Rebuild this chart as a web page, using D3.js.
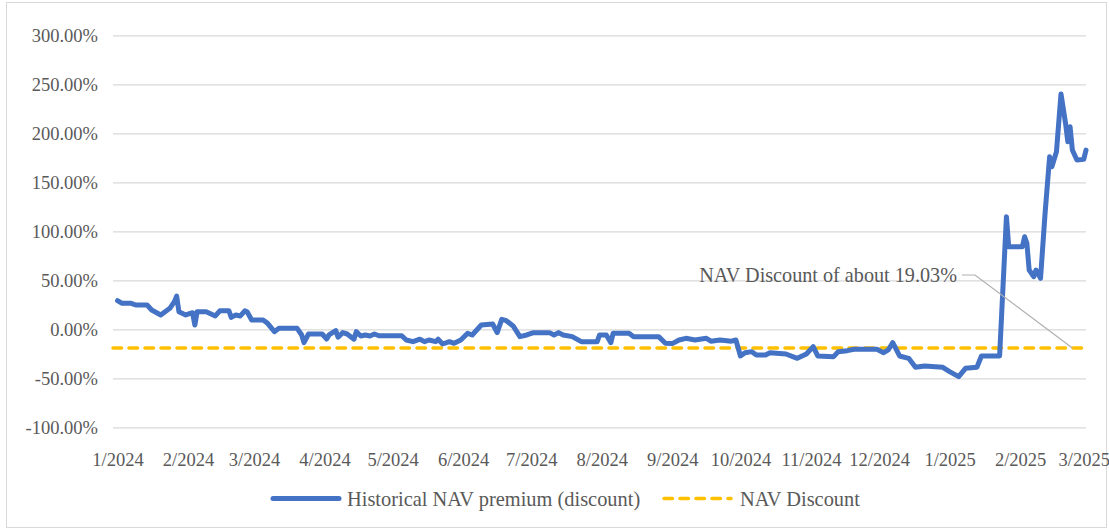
<!DOCTYPE html>
<html lang="en">
<head>
    <meta charset='utf-8'>
    <title>Historical NAV premium (discount)</title>
    <script src="https://cdn.jsdelivr.net/npm/d3@7"></script>
    <style>
        body { margin: 0; background: #fff; }
        svg { display: block; }
    </style>
</head>
<body>
<svg></svg>
<script>
    const dates = [
        "2024-01-01", "2024-01-03", "2024-01-07", "2024-01-09", "2024-01-14", "2024-01-16", "2024-01-20",
        "2024-01-24", "2024-01-26", "2024-01-27", "2024-01-28", "2024-01-31", "2024-02-03", "2024-02-04",
        "2024-02-05", "2024-02-09", "2024-02-13", "2024-02-15", "2024-02-19", "2024-02-20", "2024-02-22",
        "2024-02-24", "2024-02-26", "2024-02-27", "2024-02-29", "2024-03-05", "2024-03-07", "2024-03-10",
        "2024-03-12", "2024-03-20", "2024-03-22", "2024-03-23", "2024-03-25", "2024-03-31", "2024-04-02",
        "2024-04-03", "2024-04-06", "2024-04-07", "2024-04-09", "2024-04-11", "2024-04-14", "2024-04-15",
        "2024-04-17", "2024-04-19", "2024-04-21", "2024-04-23", "2024-04-25", "2024-05-05", "2024-05-07",
        "2024-05-10", "2024-05-13", "2024-05-15", "2024-05-17", "2024-05-20", "2024-05-21", "2024-05-23",
        "2024-05-26", "2024-05-28", "2024-05-31", "2024-06-03", "2024-06-05", "2024-06-09", "2024-06-14",
        "2024-06-16", "2024-06-18", "2024-06-20", "2024-06-23", "2024-06-26", "2024-06-29", "2024-07-02",
        "2024-07-09", "2024-07-11", "2024-07-13", "2024-07-15", "2024-07-19", "2024-07-23", "2024-07-30",
        "2024-07-31", "2024-08-03", "2024-08-05", "2024-08-06", "2024-08-13", "2024-08-15", "2024-08-26",
        "2024-08-29", "2024-09-01", "2024-09-04", "2024-09-07", "2024-09-11", "2024-09-16", "2024-09-18",
        "2024-09-22", "2024-09-27", "2024-09-29", "2024-10-01", "2024-10-03", "2024-10-06", "2024-10-08",
        "2024-10-12", "2024-10-14", "2024-10-21", "2024-10-26", "2024-10-30", "2024-11-02", "2024-11-04",
        "2024-11-11", "2024-11-13", "2024-11-17", "2024-11-20", "2024-11-30", "2024-12-03", "2024-12-05",
        "2024-12-07", "2024-12-10", "2024-12-14", "2024-12-17", "2024-12-21", "2024-12-29", "2025-01-01",
        "2025-01-05", "2025-01-08", "2025-01-13", "2025-01-15", "2025-01-23", "2025-01-26", "2025-01-27",
        "2025-02-02", "2025-02-03", "2025-02-04", "2025-02-05", "2025-02-07", "2025-02-08", "2025-02-10",
        "2025-02-12", "2025-02-14", "2025-02-15", "2025-02-17", "2025-02-19", "2025-02-21", "2025-02-22",
        "2025-02-23", "2025-02-24", "2025-02-26", "2025-03-01", "2025-03-02"
    ]

    // premium (discount) to NAV, in percent
    const premium = [
        29.3, 26.6, 26.6, 24.9, 24.9, 19.8, 14.7,
        21.5, 28.3, 34.0, 18.0, 14.7, 17.0, 4.5,
        18.0, 18.0, 13.7, 19.0, 19.0, 12.3, 14.7,
        13.7, 19.0, 18.0, 9.6, 9.6, 6.2, -2.3,
        1.1, 1.1, -5.7, -13.5, -4.7, -4.7, -9.8,
        -5.7, -1.3, -8.0, -3.3, -4.7, -10.0, -2.3,
        -6.7, -5.7, -6.7, -4.7, -6.5, -6.5, -10.8,
        -12.5, -10.0, -12.5, -10.8, -12.5, -10.0, -14.9,
        -12.5, -14.2, -10.8, -4.0, -5.7, 4.5, 5.5,
        -3.3, 10.3, 8.9, 3.5, -7.4, -5.7, -3.3,
        -3.3, -5.7, -3.3, -5.7, -7.4, -12.5, -12.5,
        -5.7, -5.7, -13.5, -4.0, -4.0, -7.4, -7.4,
        -14.2, -14.5, -10.8, -9.1, -10.8, -9.1, -12.0,
        -10.8, -12.0, -10.8, -27.1, -23.8, -22.7, -26.1,
        -26.1, -23.8, -25.1, -29.5, -25.1, -17.6, -27.1,
        -27.8, -22.7, -21.7, -20.3, -20.3, -23.8, -21.0,
        -13.5, -27.1, -29.5, -38.7, -37.3, -38.7, -43.1,
        -48.2, -39.7, -38.7, -27.1, -27.1, 115.0, 84.4,
        84.4, 94.6, 87.8, 60.6, 53.8, 60.6, 52.1,
        118.5, 176.2, 166.0, 181.3, 240.2, 210.3, 191.5,
        206.8, 183.0, 172.9, 173.5, 183.0
    ]

    const navDiscount = -19.03
    const yTicks = [-100, -50, 0, 50, 100, 150, 200, 250, 300]
    const monthTicks = [
        "2024-01-01", "2024-02-01", "2024-03-01", "2024-04-01", "2024-05-01", "2024-06-01", "2024-07-01",
        "2024-08-01", "2024-09-01", "2024-10-01", "2024-11-01", "2024-12-01", "2025-01-01", "2025-02-01",
        "2025-03-01"
    ]
    const seriesNames = ["Historical NAV premium (discount)", "NAV Discount"]
    const annotation = "NAV Discount of about 19.03%"

    const width = 1109
    const height = 530
    const margin = ({top: 35.4, right: 23, bottom: 102.6, left: 113})
    const font = "'Liberation Serif', 'DejaVu Serif', serif"
    const textColor = "#595959"
    const blue = "#4472C4"
    const gold = "#FFC000"

    const parse = d3.utcParse("%Y-%m-%d")
    const data = dates.map((d, i) => ({date: parse(d), value: premium[i]}))

    const x = d3.scaleUtc()
        .domain([parse("2023-12-30"), parse("2025-03-02")])
        .range([margin.left, width - margin.right])

    const y = d3.scaleLinear()
        .domain([-100, 300])
        .range([height - margin.bottom, margin.top])

    const svg = d3.select("svg")
        .attr("width", width)
        .attr("height", height)
        .attr("viewBox", [0, 0, width, height])

    // chart area border
    svg.append("rect")
        .attr("x", 6.5)
        .attr("y", 2.5)
        .attr("width", width - 9)
        .attr("height", height - 5)
        .attr("fill", "none")
        .attr("stroke", "#d9d9d9")

    // gridlines + y labels
    const yAxis = g => g
        .attr("transform", `translate(${margin.left},0)`)
        .call(d3.axisLeft(y)
            .tickValues(yTicks)
            .tickSize(-(width - margin.left - margin.right))
            .tickPadding(15)
            .tickFormat(d => d.toFixed(2) + "%"))
        .call(g => g.select(".domain").remove())
        .call(g => g.selectAll(".tick line").attr("stroke", "#d9d9d9").attr("stroke-width", 1.3))
        .call(g => g.selectAll(".tick text")
            .attr("fill", textColor)
            .attr("font-family", font)
            .attr("font-size", 18.5))

    svg.append("g").call(yAxis)

    const xAxis = g => g
        .attr("transform", `translate(0,${height - margin.bottom})`)
        .call(d3.axisBottom(x)
            .tickValues(monthTicks.map(parse))
            .tickSize(0)
            .tickPadding(25)
            .tickFormat(d3.utcFormat("%-m/%Y")))
        .call(g => g.select(".domain").remove())
        .call(g => g.selectAll(".tick text")
            .attr("fill", textColor)
            .attr("font-family", font)
            .attr("font-size", 18.5))

    svg.append("g").call(xAxis)

    // NAV discount reference line
    svg.append("line")
        .attr("x1", x.range()[0])
        .attr("x2", x.range()[1])
        .attr("y1", y(navDiscount))
        .attr("y2", y(navDiscount))
        .attr("stroke", gold)
        .attr("stroke-width", 3.5)
        .attr("stroke-linecap", "round")
        .attr("stroke-dasharray", "8.5 7.5")

    const line = d3.line()
        .x(d => x(d.date))
        .y(d => y(d.value))

    svg.append("path")
        .datum(data)
        .attr("fill", "none")
        .attr("stroke", blue)
        .attr("stroke-width", 5)
        .attr("stroke-linejoin", "round")
        .attr("stroke-linecap", "round")
        .attr("d", line)

    // annotation with leader line
    svg.append("text")
        .attr("x", 957)
        .attr("y", 281.5)
        .attr("text-anchor", "end")
        .attr("fill", textColor)
        .attr("font-family", font)
        .attr("font-size", 20.2)
        .text(annotation)

    svg.append("polyline")
        .attr("points", [[962, 275], [975, 275], [x(parse("2025-02-24")), y(navDiscount)]].join(" "))
        .attr("fill", "none")
        .attr("stroke", "#b0b0b0")
        .attr("stroke-width", 1.2)

    // legend
    const legend = svg.append("g")
        .attr("font-family", font)
        .attr("font-size", 20.4)
        .attr("fill", textColor)

    const legendY = 498.5
    legend.append("line")
        .attr("x1", 273).attr("x2", 339)
        .attr("y1", legendY).attr("y2", legendY)
        .attr("stroke", blue)
        .attr("stroke-width", 5)
        .attr("stroke-linecap", "round")
    legend.append("text")
        .attr("x", 347)
        .attr("y", 506)
        .text(seriesNames[0])

    legend.append("line")
        .attr("x1", 664).attr("x2", 731)
        .attr("y1", legendY).attr("y2", legendY)
        .attr("stroke", gold)
        .attr("stroke-width", 3.5)
        .attr("stroke-linecap", "round")
        .attr("stroke-dasharray", "8.5 7.5")
    legend.append("text")
        .attr("x", 740)
        .attr("y", 506)
        .text(seriesNames[1])
</script>
</body>
</html>
